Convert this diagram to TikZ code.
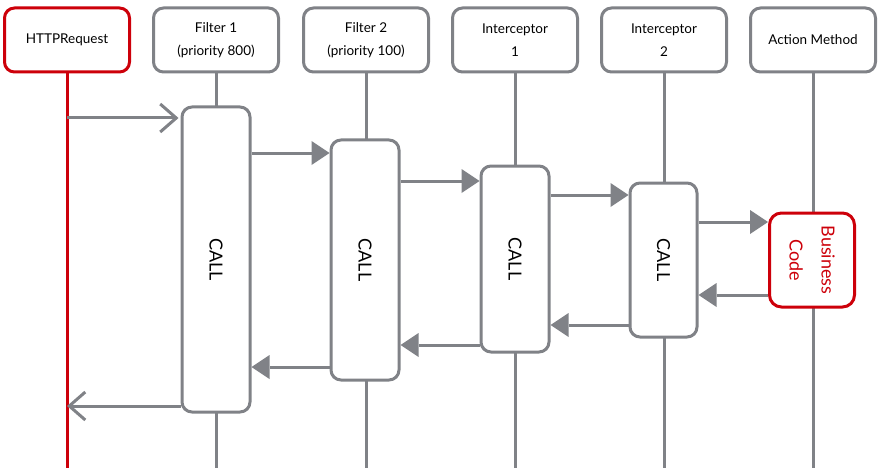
\documentclass[tikz,border=0pt]{standalone}
\usepackage{fontspec}
\setmainfont{Lato}
\usetikzlibrary{arrows.meta}
\definecolor{linegray}{RGB}{128,130,135}
\definecolor{accred}{RGB}{205,0,10}
\begin{document}
\begin{tikzpicture}[x=1pt,y=-1pt,
  line width=3pt,
  header/.style={draw=linegray,fill=white,rounded corners=10pt,minimum width=125pt,
    minimum height=64pt,align=center,font=\fontsize{13.5}{23}\selectfont,inner sep=2pt},
  redheader/.style={header,draw=accred},
  lifeline/.style={draw=linegray},
  callbox/.style={draw=linegray,fill=white,rounded corners=10pt,minimum width=68pt},
  calltext/.style={rotate=-90,font=\fontsize{18}{20}\selectfont},
  msg/.style={draw=linegray,-{Triangle[length=18pt,width=24pt,line width=0pt]}},
  reply/.style={draw=linegray,-{Straight Barb[length=16pt,width=28pt,line width=3pt]}}]
\useasboundingbox (0,0) rectangle (883,468);

% participants
\node[redheader] (req) at (67,40)  {HTTPRequest};
\node[header]    (f1)  at (216,40) {Filter 1\\(priority 800)};
\node[header]    (f2)  at (366,40) {Filter 2\\(priority 100)};
\node[header]    (i1)  at (515,40) {Interceptor\\1};
\node[header]    (i2)  at (664,40) {Interceptor\\2};
\node[header]    (act) at (813,40) {Action Method};

% lifelines
\coordinate (reqend) at (req.south |- 0,468);
\coordinate (f1end)  at (f1.south |- 0,468);
\coordinate (f2end)  at (f2.south |- 0,468);
\coordinate (i1end)  at (i1.south |- 0,468);
\coordinate (i2end)  at (i2.south |- 0,468);
\coordinate (actend) at (act.south |- 0,468);
\draw[draw=accred] (req.south) -- (reqend);
\draw[lifeline] (f1.south) -- (f1end);
\draw[lifeline] (f2.south) -- (f2end);
\draw[lifeline] (i1.south) -- (i1end);
\draw[lifeline] (i2.south) -- (i2end);
\draw[lifeline] (act.south) -- (actend);

% activations
\node[callbox,minimum height=305pt] (a1) at (216,259.5) {};
\node[callbox,minimum height=240pt] (a2) at (365,260) {};
\node[callbox,minimum height=186pt] (a3) at (515,259) {};
\node[callbox,minimum height=154pt,minimum width=67pt] (a4) at (663.5,260) {};
\node[draw=accred,fill=white,rounded corners=12pt,minimum width=85pt,minimum height=94pt] (bc) at (812,260) {};
\node[calltext] at (a1.center) {CALL};
\node[calltext] at (a2.center) {CALL};
\node[calltext] at (a3.center) {CALL};
\node[calltext] at (a4.center) {CALL};
\node[rotate=-90,align=center,text=accred,font=\fontsize{18}{32}\selectfont] at (bc.center) {Business\\Code};

% calls
\draw[reply] (req.south |- 0,118) -- ([xshift=-2pt]a1.west |- 0,118);
\draw[msg] (a1.east |- 0,153) -- (a2.west |- 0,153);
\draw[msg] (a2.east |- 0,181) -- (a3.west |- 0,181);
\draw[msg] (a3.east |- 0,195) -- (a4.west |- 0,195);
\draw[msg] (a4.east |- 0,222) -- (bc.west |- 0,222);

% returns
\draw[msg] (bc.west |- 0,295) -- (a4.east |- 0,295);
\draw[msg] (a4.west |- 0,325) -- (a3.east |- 0,325);
\draw[msg] (a3.west |- 0,345) -- (a2.east |- 0,345);
\draw[msg] (a2.west |- 0,367) -- (a1.east |- 0,367);
\draw[reply] (a1.west |- 0,406) -- (req.south |- 0,406);
\end{tikzpicture}
\end{document}
